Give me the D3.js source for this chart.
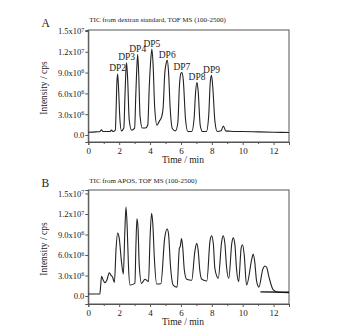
<!DOCTYPE html>
<html>
<head>
<meta charset="utf-8">
<script src="https://cdn.jsdelivr.net/npm/d3@7"></script>
<style>
  body { margin: 0; background: #fff; }
  svg text { font-family: "Liberation Serif", "Times New Roman", "DejaVu Serif", serif; fill: #222; }
</style>
</head>
<body>
<svg id="chart"></svg>
<script>
// Panel A: TIC of dextran standard (time in min, intensity in 10^6 cps)
let timeA = [0, 0.5, 0.75, 0.85, 0.95, 1.4, 1.5, 1.6, 1.75,
    1.8, 1.85, 1.9, 1.95, 2.05, 2.15,
    2.3, 2.38, 2.45, 2.48, 2.55, 2.65, 2.8,
    3.0, 3.08, 3.15, 3.2, 3.27, 3.35, 3.5, 3.7, 3.85,
    3.95, 4.05, 4.12, 4.2, 4.3, 4.45, 4.6, 4.75, 4.85,
    4.95, 5.05, 5.11, 5.2, 5.3, 5.45, 5.65, 5.8,
    5.9, 6.0, 6.06, 6.15, 6.3, 6.45, 6.7, 6.85,
    6.95, 7.04, 7.12, 7.25, 7.4, 7.65, 7.8,
    7.9, 7.98, 8.06, 8.2, 8.35, 8.6, 8.75, 8.9, 9.2, 10, 11, 12, 13]
let intensityA = [0.4, 0.45, 0.5, 0.75, 0.5, 0.5, 0.7, 0.5, 0.7,
    3.5, 7.5, 8.8, 7.2, 2.2, 0.6,
    1.0, 6.0, 9.8, 10.4, 8.0, 2.2, 0.7,
    1.0, 6.0, 10.0, 11.6, 8.5, 2.8, 1.0, 1.0, 1.4,
    7.0, 11.0, 12.4, 10.0, 4.0, 1.4, 2.0, 2.6, 4.0,
    8.8, 10.4, 10.8, 9.0, 4.0, 0.9, 0.6, 1.8,
    7.0, 8.9, 9.0, 8.0, 2.2, 0.5, 0.5, 2.3,
    6.2, 7.6, 6.2, 1.4, 0.5, 0.5, 2.8,
    7.6, 8.6, 7.0, 2.0, 0.5, 0.6, 1.3, 0.6, 0.55, 0.5, 0.45, 0.4, 0.35]

// Peak labels for panel A
let dpLabels = ["DP2", "DP3", "DP4", "DP5", "DP6", "DP7", "DP8", "DP9"]
let dpTimes = [1.9, 2.48, 3.2, 4.12, 5.11, 6.06, 7.04, 7.98]
let dpPeaks = [8.8, 10.4, 11.6, 12.4, 10.8, 9.0, 7.6, 8.6]

// Panel B: TIC of APOS
let timeB = [0, 0.75, 0.8, 0.86, 0.95, 1.08, 1.2, 1.36, 1.45, 1.58, 1.69,
    1.8, 1.9, 2.0, 2.15, 2.27,
    2.36, 2.44, 2.52, 2.6, 2.7, 3.02,
    3.08, 3.15, 3.22, 3.3, 3.45, 3.67, 3.9,
    4.0, 4.1, 4.18, 4.28, 4.43, 4.7,
    4.95, 5.11, 5.2, 5.32, 5.5, 5.75,
    5.9, 5.95, 6.04, 6.12, 6.22, 6.37, 6.7,
    6.9, 7.02, 7.12, 7.22, 7.35, 7.68,
    7.88, 7.99, 8.1, 8.2, 8.42,
    8.64, 8.74, 8.85, 8.95, 9.1,
    9.3, 9.39, 9.5, 9.6, 9.74,
    9.9, 9.99, 10.1, 10.25,
    10.6, 10.68, 10.78, 10.9, 11.05,
    11.3, 11.44, 11.55, 11.7, 11.98, 12.3, 13]
let intensityB = [0.3, 0.3, 1.5, 2.9, 2.4, 1.95, 2.3, 3.4, 3.1, 2.7, 2.0,
    7.0, 9.2, 8.5, 5.0, 3.2,
    9.0, 13.0, 10.0, 4.5, 1.6, 1.85,
    7.0, 11.3, 10.0, 4.5, 1.85, 2.45, 2.1,
    8.5, 12.1, 10.5, 5.5, 1.76, 1.8,
    8.5, 9.8, 9.0, 4.5, 1.6, 1.3,
    7.0, 7.2, 8.4, 7.0, 3.8, 2.45, 2.3,
    6.5, 7.7, 6.6, 3.8, 2.45, 2.2,
    8.0, 8.8, 7.6, 4.0, 2.6,
    8.0, 8.8, 7.6, 4.4, 2.6,
    7.8, 8.5, 7.4, 4.0, 2.1,
    7.0, 7.5, 6.0, 1.6,
    5.5, 6.15, 5.0, 2.2, 1.3,
    3.9, 4.4, 4.2, 2.8, 0.9, 0.55, 0.5]
// separate flat trace drawn over the tail of panel B
let tailTimeB = [11.15, 13]
let tailIntensityB = [0.6, 0.55]

let xTicks = [0, 2, 4, 6, 8, 10, 12]
let xMinorTicks = [1, 3, 5, 7, 9, 11, 13]
let yTicks = [0, 3, 6, 9, 12, 15]
let yTickMantissa = ["0.0", "3.0", "6.0", "9.0", "1.2", "1.5"]
let yTickExponent = ["", "6", "6", "6", "7", "7"]

let svg = d3.select("#chart").attr("width", 352).attr("height", 332)
svg.append("rect").attr("width", 352).attr("height", 332).attr("fill", "#fff")

drawPanel(svg, {
    letter: "A", title: "TIC from dextran standard, TOF MS (100-2500)",
    top: 30, bottom: 142, yDomain: [-1.01, 15.14],
    letterY: 27, titleY: 21.5,
    time: timeA, intensity: intensityA
})
drawPanel(svg, {
    letter: "B", title: "TIC from APOS, TOF MS (100-2500)",
    top: 190, bottom: 304, yDomain: [-1.17, 15.51],
    letterY: 187, titleY: 182.5,
    time: timeB, intensity: intensityB,
    tailTime: tailTimeB, tailIntensity: tailIntensityB
})

// One chromatogram panel with frame, axes, labels and the trace
function drawPanel(svg, p) {
    let left = 88.3, right = 289
    let x = d3.scaleLinear().domain([0, 13]).range([left, right])
    let y = d3.scaleLinear().domain(p.yDomain).range([p.bottom, p.top])

    let g = svg.append("g")

    // x axis, major and minor ticks pointing outward
    let xAxis = d3.axisBottom(x).tickValues(xTicks).tickSize(3).tickPadding(3)
        .tickFormat(d3.format("d"))
    let gx = g.append("g").attr("transform", "translate(0," + p.bottom + ")").call(xAxis)
    g.append("g").attr("transform", "translate(0," + p.bottom + ")")
        .call(d3.axisBottom(x).tickValues(xMinorTicks).tickSize(2).tickFormat(""))
        .select(".domain").remove()

    // y axis with x10^n labels
    let yAxis = d3.axisLeft(y).tickValues(yTicks).tickSize(3).tickFormat("")
    let gy = g.append("g").attr("transform", "translate(" + left + ",0)").call(yAxis)
    gy.selectAll(".tick").each(function (d, i) {
        let t = d3.select(this).append("text")
            .attr("x", -4).attr("dy", "0.35em")
            .attr("text-anchor", "end")
            .style("font-size", "8.5px")
        if (yTickExponent[i] === "") {
            t.text(yTickMantissa[i])
        } else {
            t.append("tspan").text(yTickMantissa[i] + "x10")
            t.append("tspan").attr("dy", "-0.45em").style("font-size", "6px").text(yTickExponent[i])
        }
    })

    g.selectAll(".domain").attr("stroke", "#555")
    g.selectAll(".tick line").attr("stroke", "#555")
    gx.selectAll(".tick text").style("font-size", "9px").attr("fill", "#222")

    // frame
    g.append("rect")
        .attr("x", left).attr("y", p.top)
        .attr("width", right - left).attr("height", p.bottom - p.top)
        .attr("fill", "none").attr("stroke", "#555").attr("stroke-width", 1)

    // trace
    let line = d3.line()
        .x((d, i) => x(p.time[i]))
        .y(d => y(d))
        .curve(d3.curveMonotoneX)
    g.append("path")
        .datum(p.intensity)
        .attr("fill", "none")
        .attr("stroke", "#222")
        .attr("stroke-width", 1.1)
        .attr("d", line)

    if (p.tailTime) {
        g.append("path")
            .datum(p.tailIntensity)
            .attr("fill", "none")
            .attr("stroke", "#111")
            .attr("stroke-width", 1.4)
            .attr("d", d3.line().x((d, i) => x(p.tailTime[i])).y(d => y(d)))
    }

    // peak labels on panel A
    if (p.letter === "A") {
        g.selectAll(".dp").data(dpLabels).enter().append("text")
            .attr("x", (d, i) => x(dpTimes[i]))
            .attr("y", (d, i) => y(dpPeaks[i]) - 2.5)
            .attr("text-anchor", "middle")
            .style("font-size", "9.5px")
            .text(d => d)
    }

    // axis titles
    g.append("text")
        .attr("x", 183).attr("y", p.bottom + 21)
        .attr("text-anchor", "middle")
        .style("font-size", "9.5px")
        .text("Time / min")
    g.append("text")
        .attr("transform", "translate(47," + ((p.top + p.bottom) / 2 + 2) + ") rotate(-90)")
        .attr("text-anchor", "middle")
        .style("font-size", "9.5px")
        .text("Intensity / cps")

    // panel letter and title
    g.append("text").attr("x", 41.5).attr("y", p.letterY)
        .style("font-size", "11.5px").text(p.letter)
    g.append("text").attr("x", 89.3).attr("y", p.titleY)
        .style("font-size", "7px").text(p.title)
}
</script>
</body>
</html>
